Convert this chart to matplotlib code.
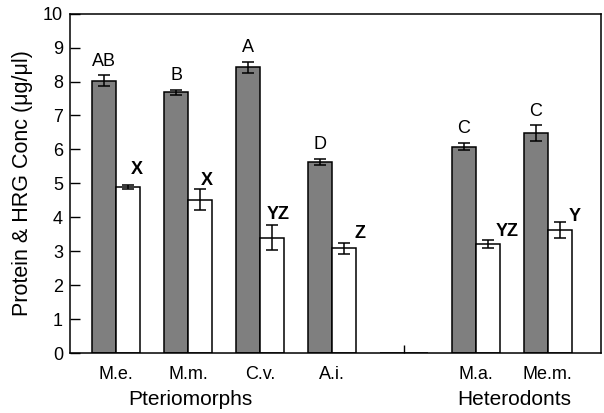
import matplotlib
matplotlib.use('Agg')
import matplotlib.pyplot as plt
import numpy as np
from matplotlib.transforms import blended_transform_factory

plt.rcParams['font.family'] = ['Liberation Sans', 'DejaVu Sans']

species = ['M.e.', 'M.m.', 'C.v.', 'A.i.', '', 'M.a.', 'Me.m.']
protein = [8.03, 7.68, 8.42, 5.64, 0, 6.08, 6.48]
protein_err = [0.15, 0.08, 0.16, 0.09, 0, 0.11, 0.23]
hrg = [4.89, 4.52, 3.40, 3.09, 0, 3.22, 3.62]
hrg_err = [0.05, 0.30, 0.36, 0.16, 0, 0.11, 0.24]
protein_letters = ['AB', 'B', 'A', 'D', '', 'C', 'C']
hrg_letters = ['X', 'X', 'YZ', 'Z', '', 'YZ', 'Y']
groups = ['Pteriomorphs', 'Heterodonts']
group_x = [1.03, 5.53]

# label offsets (points) for the bold letters next to the white bars
hrg_dx = [6.5, 5, 4.3, 11.5, 0, 13.7, 11]
hrg_dy = [8, 3.5, 5, 3.2, 0, 3, 0.5]

fig = plt.figure(figsize=(6.04, 4.13), dpi=100)
ax = fig.add_axes([0.116, 0.145, 0.879, 0.822])

x = np.arange(len(species))
w = 1 / 3.

ax.bar(x - w/2, protein, w, color='#7f7f7f', edgecolor='black', linewidth=1.1)
ax.bar(x + w/2, hrg, w, color='white', edgecolor='black', linewidth=1.1)

for i in range(len(species)):
	if species[i] == '':
		continue
	ax.errorbar(x[i] - w/2, protein[i], yerr=protein_err[i], fmt='none', ecolor='black',
		elinewidth=1.1, capsize=4.5, capthick=1.1)
	ax.errorbar(x[i] + w/2, hrg[i], yerr=hrg_err[i], fmt='none', ecolor='black',
		elinewidth=1.1, capsize=4.5, capthick=1.1)
	ax.annotate(protein_letters[i], (x[i] - w/2, protein[i] + protein_err[i]),
		xytext=(0, 7), textcoords='offset points', ha='center', va='baseline', fontsize=13)
	ax.annotate(hrg_letters[i], (x[i] + w/2, hrg[i] + hrg_err[i]),
		xytext=(hrg_dx[i], hrg_dy[i]), textcoords='offset points', ha='center', va='baseline',
		fontsize=13, fontweight='bold')

ax.set_xlim(-0.64, 6.74)
ax.set_ylim(0, 10)
ax.set_yticks(np.arange(0, 11, 1))
ax.tick_params(axis='y', direction='in', length=7, width=1, labelsize=13, pad=5)
ax.set_xticks(x)
ax.set_xticklabels(species)
ax.tick_params(axis='x', direction='in', length=6, width=1, labelsize=13, pad=9)
# only the empty slot keeps a visible tick
for t, s in zip(ax.xaxis.get_major_ticks(), species):
	if s != '':
		t.tick1line.set_visible(False)
ax.set_ylabel('Protein & HRG Conc (\u03bcg/\u03bcl)', fontsize=15.5, labelpad=7)

trans = blended_transform_factory(ax.transData, ax.transAxes)
for g, gx in zip(groups, group_x):
	ax.text(gx, -0.138, g, transform=trans, ha='center', va='center', fontsize=15)

for s in ax.spines.values():
	s.set_linewidth(1.1)

fig.savefig('out.png', dpi=100)
